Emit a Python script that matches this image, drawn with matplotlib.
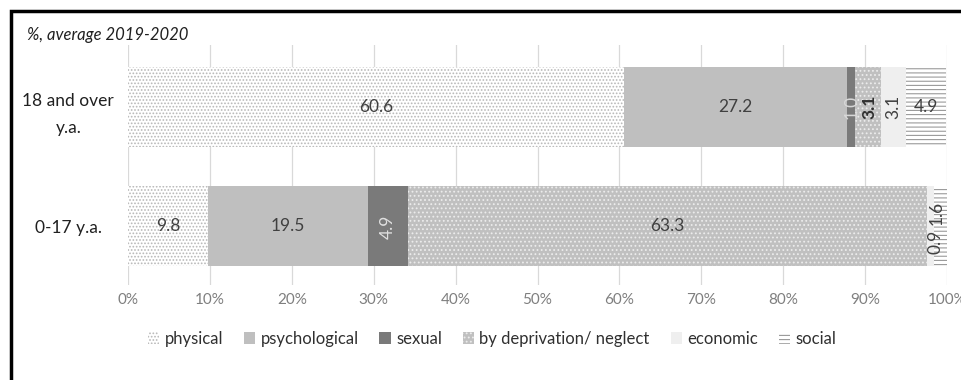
import matplotlib
matplotlib.use("Agg")
import matplotlib.pyplot as plt
from matplotlib.patches import Rectangle, Patch
import numpy as np

plt.rcParams['font.family'] = ['Lato', 'DejaVu Sans']
plt.rcParams['hatch.linewidth'] = 0.8

# Age groups (bottom to top)
groups = ["0-17 y.a.", "18 and over\ny.a."]
categories = ["physical", "psychological", "sexual", "by deprivation/ neglect", "economic", "social"]
values = {
    "physical":                [9.8, 60.6],
    "psychological":           [19.5, 27.2],
    "sexual":                  [4.9, 1.0],
    "by deprivation/ neglect": [63.3, 3.1],
    "economic":                [0.9, 3.1],
    "social":                  [1.6, 4.9],
}
xticks = [0, 10, 20, 30, 40, 50, 60, 70, 80, 90, 100]
title = "%, average 2019-2020"

styles = {
    "physical":                dict(facecolor="white",   edgecolor="#b8b8b8", hatch="....."),
    "psychological":           dict(facecolor="#bfbfbf", edgecolor="#bfbfbf", hatch=None),
    "sexual":                  dict(facecolor="#7a7a7a", edgecolor="#7a7a7a", hatch=None),
    "by deprivation/ neglect": dict(facecolor="#c0c0c0", edgecolor="#ececec", hatch="...."),
    "economic":                dict(facecolor="#efefef", edgecolor="#efefef", hatch=None),
    "social":                  dict(facecolor="white",   edgecolor="#9a9a9a", hatch="----"),
}

# Label appearance per segment: (rotation, color, weight, dx, dy) per group
label_style = {
    "physical":                [(0, "#404040", "normal", 0, 0), (0, "#404040", "normal", 0, 0)],
    "psychological":           [(0, "#404040", "normal", 0, 0), (0, "#404040", "normal", 0, 0)],
    "sexual":                  [(90, "#e0e0e0", "normal", 0, 0), (90, "#d8d8d8", "normal", 0, 0)],
    "by deprivation/ neglect": [(0, "#404040", "normal", 0, 0), (90, "#303030", "bold", 1, 0)],
    "economic":                [(90, "#404040", "normal", 4, -11), (90, "#404040", "normal", 0, 0)],
    "social":                  [(90, "#404040", "normal", -3, 10), (0, "#404040", "normal", 0, 0)],
}

fig = plt.figure(figsize=(9.61, 3.8), dpi=100)
ax = fig.add_axes([128 / 961, 95 / 380, 819 / 961, 240 / 380])

y = np.arange(len(groups))
left = np.zeros(len(groups))
for cat in categories:
    vals = np.array(values[cat])
    st = styles[cat]
    ax.barh(y, vals, left=left, height=0.67, facecolor=st["facecolor"],
            edgecolor=st["edgecolor"], hatch=st["hatch"], linewidth=0, zorder=2)
    for i, v in enumerate(vals):
        rot, col, wt, dx, dy = label_style[cat][i]
        ax.annotate(f"{v:.1f}", xy=(left[i] + v / 2, y[i]), xytext=(dx, dy),
                    textcoords="offset points", ha="center", va="center",
                    rotation=rot, color=col, fontweight=wt, fontsize=12.5, zorder=4)
    left += vals

ax.set_xlim(0, 100)
ax.set_ylim(-0.49, 1.52)
ax.set_xticks(xticks)
ax.set_xticklabels([f"{t}%" for t in xticks], color="#7f7f7f", fontsize=11)
ax.set_yticks(y)
ax.set_yticklabels(groups, fontsize=12.5, color="#202020", ha="center",
                   linespacing=1.9)
ax.tick_params(axis="y", length=0, pad=43)
ax.tick_params(axis="x", length=0, pad=6)
ax.grid(axis="x", color="#d9d9d9", linewidth=0.9, zorder=0)
for s in ax.spines.values():
    s.set_visible(False)

fig.text(27 / 961, 1 - 35 / 380, title, fontsize=12, style="italic",
         color="#202020", va="center", ha="left")

handles = [Patch(facecolor=styles[c]["facecolor"], edgecolor=styles[c]["edgecolor"],
                 hatch=styles[c]["hatch"], linewidth=0) for c in categories]
fig.legend(handles, categories, loc="center", bbox_to_anchor=(0.512, 1 - 339 / 380),
           ncol=6, frameon=False, fontsize=12, handlelength=0.7, handleheight=0.7,
           handletextpad=0.3, columnspacing=1.25, labelcolor="#303030")

# outer chart frame
fig.patches.append(Rectangle((11 / 961, -0.05), 1.2, 1 - 11 / 380 + 0.05,
                             transform=fig.transFigure, fill=False,
                             edgecolor="black", linewidth=2.5, zorder=10))

fig.savefig("out.png", dpi=100)
